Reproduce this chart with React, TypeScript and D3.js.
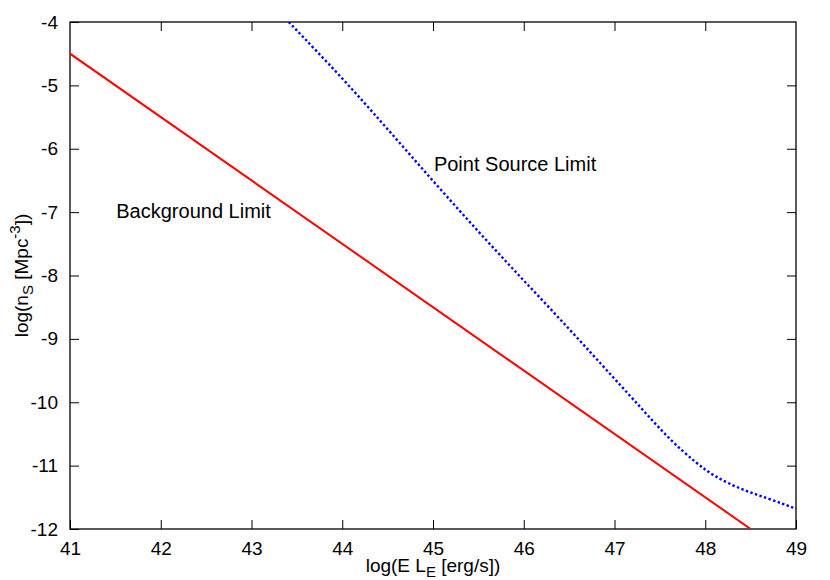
import * as d3 from "d3";
import { useEffect, useRef } from "react";

// background limit line (log E L_E vs log n_s)
const bgX = [41, 48.5];
const bgY = [-4.5, -12];

// point source limit
const psX = [43.41, 44, 44.5, 45, 45.5, 46, 46.5, 47, 47.3, 47.6, 47.9, 48.1, 48.4, 48.7, 49];
const psY = [-4, -4.88, -5.69, -6.51, -7.31, -8.08, -8.84, -9.63, -10.1, -10.58, -10.96, -11.17, -11.38, -11.52, -11.68];

const xTicks = [41, 42, 43, 44, 45, 46, 47, 48, 49];
const yTicks = [-4, -5, -6, -7, -8, -9, -10, -11, -12];

function drawChart(container: HTMLElement) {
  const width = 830;
  const height = 580;
  const marginLeft = 70;
  const marginRight = 34;
  const marginTop = 22;
  const marginBottom = 51;
  const font = "'Liberation Sans', Arial, sans-serif";

  const svg = d3.select(container)
    .append("svg")
    .attr("width", width)
    .attr("height", height)
    .attr("viewBox", [0, 0, width, height])
    .style("position", "absolute")
    .style("left", "0px")
    .style("top", "0px")
    .style("background", "#fff")
    .attr("font-family", font);

  const x = d3.scaleLinear([41, 49], [marginLeft, width - marginRight]);
  const y = d3.scaleLinear([-12, -4], [height - marginBottom, marginTop]);

  svg.append("defs").append("clipPath").attr("id", "plot-clip")
    .append("rect")
    .attr("x", marginLeft).attr("y", marginTop)
    .attr("width", width - marginLeft - marginRight)
    .attr("height", height - marginTop - marginBottom);

  // axes, ticks pointing inwards, mirrored on top and right
  const tick = 9;
  const styleAxis = (g: any, labels: boolean) => {
    g.select(".domain").remove();
    g.selectAll("line").attr("stroke", "#000").attr("stroke-width", 1);
    g.selectAll("text")
      .attr("font-size", 19)
      .attr("font-family", font)
      .attr("fill", "#000");
    if (!labels) g.selectAll("text").remove();
  };
  const fmt = (d: any) => String(d);

  svg.append("g")
    .attr("transform", `translate(0,${height - marginBottom})`)
    .call(d3.axisBottom(x).tickValues(xTicks).tickSize(-tick).tickPadding(13).tickFormat(fmt))
    .call((g: any) => styleAxis(g, true));

  svg.append("g")
    .attr("transform", `translate(0,${marginTop})`)
    .call(d3.axisTop(x).tickValues(xTicks.slice(1, -1)).tickSize(-tick).tickFormat(() => ""))
    .call((g: any) => styleAxis(g, false));

  svg.append("g")
    .attr("transform", `translate(${marginLeft},0)`)
    .call(d3.axisLeft(y).tickValues(yTicks).tickSize(-tick).tickPadding(12).tickFormat(fmt))
    .call((g: any) => styleAxis(g, true));

  svg.append("g")
    .attr("transform", `translate(${width - marginRight},0)`)
    .call(d3.axisRight(y).tickValues(yTicks.slice(1, -1)).tickSize(-tick).tickFormat(() => ""))
    .call((g: any) => styleAxis(g, false));

  // frame
  svg.append("rect")
    .attr("x", marginLeft).attr("y", marginTop)
    .attr("width", width - marginLeft - marginRight)
    .attr("height", height - marginTop - marginBottom)
    .attr("fill", "none")
    .attr("stroke", "#000")
    .attr("stroke-width", 1.3);

  const plot = svg.append("g").attr("clip-path", "url(#plot-clip)");

  const bgLine = d3.line<number>()
    .x((_, i) => x(bgX[i]))
    .y(d => y(d));
  plot.append("path")
    .attr("d", bgLine(bgY))
    .attr("fill", "none")
    .attr("stroke", "#ff0000")
    .attr("stroke-width", 2);

  const psLine = d3.line<number>()
    .x((_, i) => x(psX[i]))
    .y(d => y(d))
    .curve(d3.curveBasis);
  plot.append("path")
    .attr("d", psLine(psY))
    .attr("fill", "none")
    .attr("stroke", "#0000ff")
    .attr("stroke-width", 2.4)
    .attr("stroke-dasharray", "2.4,2.4");

  // labels in the plot
  svg.append("text")
    .attr("x", x(41.51)).attr("y", y(-7.1))
    .attr("font-size", 20)
    .text("Background Limit");
  svg.append("text")
    .attr("x", x(45.01)).attr("y", y(-6.35))
    .attr("font-size", 20)
    .text("Point Source Limit");

  // x axis title
  const xt = svg.append("text")
    .attr("x", (marginLeft + width - marginRight) / 2)
    .attr("y", 572)
    .attr("text-anchor", "middle")
    .attr("font-size", 19);
  xt.append("tspan").text("log(E L");
  xt.append("tspan").attr("font-size", 15).attr("dy", 5).text("E");
  xt.append("tspan").attr("dy", -5).text(" [erg/s])");

  // y axis title
  const yt = svg.append("text")
    .attr("transform", `translate(28,${(marginTop + height - marginBottom) / 2}) rotate(-90)`)
    .attr("text-anchor", "middle")
    .attr("font-size", 19);
  yt.append("tspan").text("log(n");
  yt.append("tspan").attr("font-size", 15).attr("dy", 5).text("S");
  yt.append("tspan").attr("dy", -5).text(" [Mpc");
  yt.append("tspan").attr("font-size", 15).attr("dy", -8).text("-3");
  yt.append("tspan").attr("dy", 8).text("])");
}

export default function App() {
  const domRef = useRef<HTMLDivElement>(null);
  useEffect(() => {
    if (domRef.current) {
      drawChart(domRef.current);
    }
    return () => {
      if (domRef.current) {
        d3.select(domRef.current).selectAll("svg").remove();
      }
    };
  }, [domRef]);
  return <div ref={domRef}></div>;
}
